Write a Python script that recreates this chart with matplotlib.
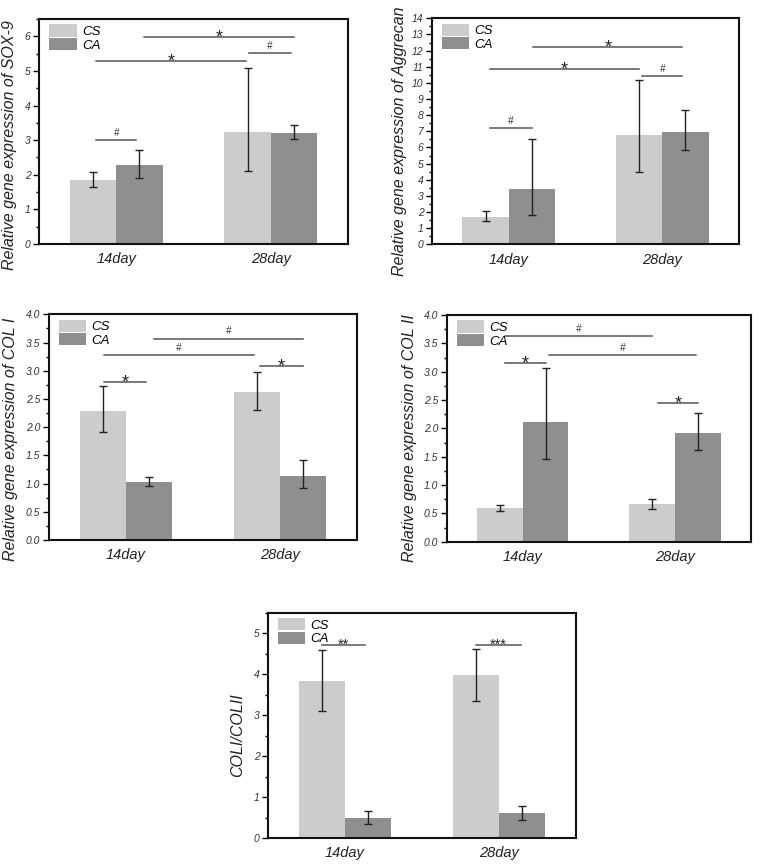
import numpy as np
import matplotlib
matplotlib.use("Agg")
import matplotlib.pyplot as plt
from matplotlib.patches import Patch
from matplotlib.ticker import MultipleLocator, FormatStrFormatter

plt.rcParams["font.family"] = ["Liberation Sans", "DejaVu Sans"]

days = ["14day", "28day"]
groups = ["CS", "CA"]

# mean, error low, error high  (per day)
sox9_cs = [1.85, 3.25]
sox9_cs_lo = [1.65, 2.10]
sox9_cs_hi = [2.08, 5.08]
sox9_ca = [2.28, 3.22]
sox9_ca_lo = [1.92, 3.02]
sox9_ca_hi = [2.73, 3.43]

agg_cs = [1.72, 6.75]
agg_cs_lo = [1.45, 4.45]
agg_cs_hi = [2.05, 10.15]
agg_ca = [3.45, 6.97]
agg_ca_lo = [1.80, 5.85]
agg_ca_hi = [6.55, 8.30]

col1_cs = [2.29, 2.62]
col1_cs_lo = [1.92, 2.31]
col1_cs_hi = [2.73, 2.97]
col1_ca = [1.02, 1.14]
col1_ca_lo = [0.95, 0.92]
col1_ca_hi = [1.11, 1.42]

col2_cs = [0.60, 0.66]
col2_cs_lo = [0.55, 0.58]
col2_cs_hi = [0.65, 0.75]
col2_ca = [2.11, 1.92]
col2_ca_lo = [1.46, 1.62]
col2_ca_hi = [3.06, 2.27]

ratio_cs = [3.84, 3.98]
ratio_cs_lo = [3.10, 3.35]
ratio_cs_hi = [4.60, 4.62]
ratio_ca = [0.50, 0.61]
ratio_ca_lo = [0.34, 0.43]
ratio_ca_hi = [0.66, 0.79]

# significance bars: (x start, x end, y, mark)
sig_sox9 = [(0.87, 1.13, 3.0, "#"), (0.87, 1.84, 5.3, "*"),
            (1.18, 2.15, 5.97, "*"), (1.86, 2.13, 5.52, "#")]
sig_agg = [(0.88, 1.15, 7.2, "#"), (0.88, 1.85, 10.85, "*"),
           (1.16, 2.13, 12.2, "*"), (1.87, 2.13, 10.4, "#")]
sig_col1 = [(0.86, 1.13, 2.8, "*"), (0.86, 1.83, 3.28, "#"),
            (1.18, 2.15, 3.57, "#"), (1.87, 2.15, 3.09, "*")]
sig_col2 = [(0.88, 1.85, 3.63, "#"), (0.88, 1.15, 3.15, "*"),
            (1.17, 2.14, 3.29, "#"), (1.89, 2.15, 2.44, "*")]
sig_ratio = [(0.85, 1.13, 4.7, "**"), (1.85, 2.14, 4.7, "***")]

light = "#cccccc"
dark = "#8f8f8f"
W, H = 761, 865

fig = plt.figure(figsize=(W / 100, H / 100), dpi=100)


def panel(rect, cs, cs_lo, cs_hi, ca, ca_lo, ca_hi, sigs, ylabel, ymax,
          major, minor, fmt, label_xy):
    ax = fig.add_axes(rect)
    x = np.arange(1, len(days) + 1)
    w = 0.3
    cs = np.array(cs); ca = np.array(ca)
    ax.bar(x - w / 2, cs, w, color=light, zorder=2)
    ax.bar(x + w / 2, ca, w, color=dark, zorder=2)
    ax.errorbar(x - w / 2, cs, yerr=[cs - np.array(cs_lo), np.array(cs_hi) - cs],
                fmt="none", ecolor="#222222", elinewidth=1, capsize=3, capthick=1, zorder=3)
    ax.errorbar(x + w / 2, ca, yerr=[ca - np.array(ca_lo), np.array(ca_hi) - ca],
                fmt="none", ecolor="#222222", elinewidth=1, capsize=3, capthick=1, zorder=3)
    for x1, x2, y, s in sigs:
        ax.plot([x1, x2], [y, y], color="#555555", lw=1.1, zorder=3)
        if "#" in s:
            ax.annotate(s, ((x1 + x2) / 2, y), xytext=(0, 1.5), textcoords="offset points",
                        ha="center", va="bottom", fontsize=7, color="#333333",
                        style="italic")
        elif len(s) == 1:
            ax.annotate(s, ((x1 + x2) / 2, y), xytext=(0, -4),
                        textcoords="offset points", ha="center", va="baseline",
                        fontsize=13, color="#222222")
        else:
            ax.annotate(s, ((x1 + x2) / 2, y), xytext=(0, -2.5),
                        textcoords="offset points", ha="center", va="baseline",
                        fontsize=10.5, color="#222222")
    ax.set_xlim(0.5, 2.5)
    ax.set_ylim(0, ymax)
    ax.set_xticks(x)
    ax.set_xticklabels(days, fontsize=10.5, style="italic", color="#222222")
    ax.tick_params(axis="x", length=0, pad=6)
    ax.yaxis.set_major_locator(MultipleLocator(major))
    ax.yaxis.set_minor_locator(MultipleLocator(minor))
    ax.yaxis.set_major_formatter(FormatStrFormatter(fmt))
    ax.tick_params(axis="y", which="major", length=4, width=1, labelsize=7.5,
                   pad=2, labelcolor="#333333")
    ax.tick_params(axis="y", which="minor", length=2.5, width=1)
    for lab in ax.get_yticklabels():
        lab.set_style("italic")
    for sp in ax.spines.values():
        sp.set_linewidth(1.5)
        sp.set_color("#111111")
    ax.set_ylabel(ylabel, fontsize=11.5, style="italic", color="#222222")
    ax.yaxis.set_label_coords(*label_xy)
    handles = [Patch(facecolor=light, edgecolor="none"),
               Patch(facecolor=dark, edgecolor="none")]
    ax.legend(handles, groups, loc="upper left", bbox_to_anchor=(0.015, 1.0),
              frameon=False, prop={"style": "italic", "size": 9.5},
              handlelength=2.1, handleheight=1.05, labelspacing=0.0,
              handletextpad=0.4, borderaxespad=0.3, borderpad=0.1)
    return ax


def rect(l, t, r, b):
    return [l / W, 1 - b / H, (r - l) / W, (b - t) / H]


panel(rect(39, 19, 348, 244), sox9_cs, sox9_cs_lo, sox9_cs_hi, sox9_ca, sox9_ca_lo,
      sox9_ca_hi, sig_sox9, "Relative gene expression of SOX-9", 6.5, 1, 0.5, "%d",
      (-0.071, 0.44))
panel(rect(431.7, 18.3, 739.3, 244.3), agg_cs, agg_cs_lo, agg_cs_hi, agg_ca, agg_ca_lo,
      agg_ca_hi, sig_agg, "Relative gene expression of Aggrecan", 14, 1, 0.5, "%d",
      (-0.080, 0.455))
panel(rect(48.7, 314.3, 357, 540), col1_cs, col1_cs_lo, col1_cs_hi, col1_ca, col1_ca_lo,
      col1_ca_hi, sig_col1, "Relative gene expression of COL I", 4.0, 0.5, 0.25, "%.1f",
      (-0.0996, 0.447))
panel(rect(446.7, 315, 751, 541.7), col2_cs, col2_cs_lo, col2_cs_hi, col2_ca, col2_ca_lo,
      col2_ca_hi, sig_col2, "Relative gene expression of COL II", 4.0, 0.5, 0.25, "%.1f",
      (-0.0976, 0.455))
panel(rect(267.7, 612.7, 576, 838), ratio_cs, ratio_cs_lo, ratio_cs_hi, ratio_ca, ratio_ca_lo,
      ratio_ca_hi, sig_ratio, "COLI/COLII", 5.5, 1, 0.5, "%d",
      (-0.0736, 0.457))

fig.savefig("out.png", dpi=100)
